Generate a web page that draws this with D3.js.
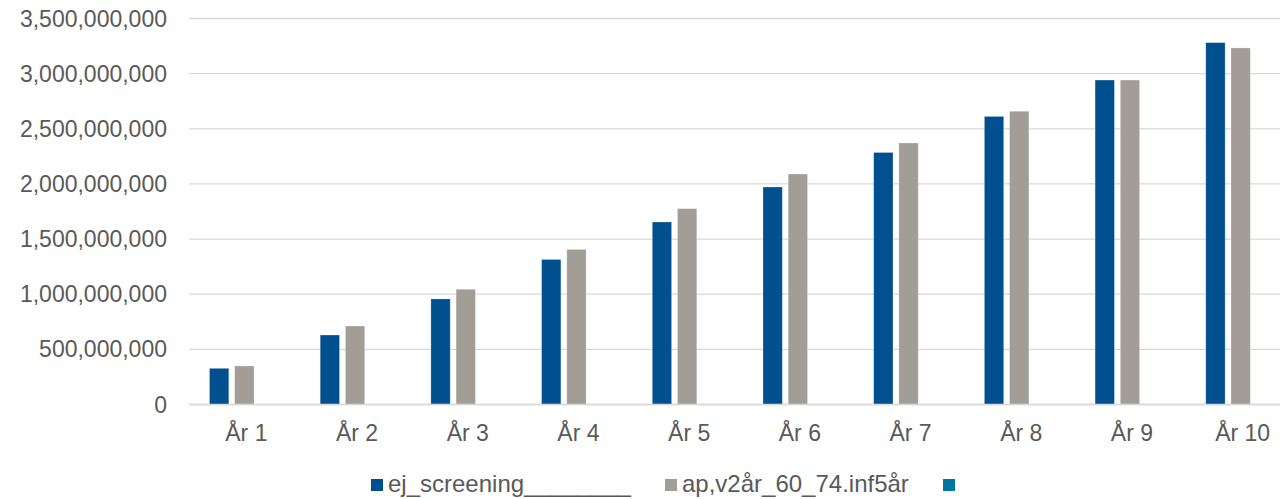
<!DOCTYPE html>
<html>
<head>
<meta charset="utf-8">
<script src="https://cdn.jsdelivr.net/npm/d3@7"></script>
<style>
  html, body { margin: 0; padding: 0; background: #fff; overflow: hidden; }
  svg { display: block; font-family: "Liberation Sans", Arial, sans-serif; }
</style>
</head>
<body>
<svg id="chart" width="1280" height="499"></svg>
<script>
const categories = ["År 1","År 2","År 3","År 4","År 5","År 6","År 7","År 8","År 9","År 10"];
const seriesNames = ["ej_screening________", "ap,v2år_60_74.inf5år", ""];
const ejScreening = [328e6, 630e6, 957e6, 1315e6, 1655e6, 1972e6, 2285e6, 2612e6, 2942e6, 3281e6];
const apV2ar = [349e6, 712e6, 1045e6, 1406e6, 1776e6, 2090e6, 2371e6, 2659e6, 2942e6, 3233e6];
const third = [0, 0, 0, 0, 0, 0, 0, 0, 0, 0];
const yTicks = [0, 500e6, 1000e6, 1500e6, 2000e6, 2500e6, 3000e6, 3500e6];
const colors = ["#00508F", "#A39D98", "#0075A2"];

const seriesValues = [ejScreening, apV2ar, third];
const svg = d3.select("#chart");

const plotLeft = 189, plotRight = 1296, plotTop = 18.5, plotBottom = 404.5;

const x0 = d3.scaleBand().domain(categories).range([plotLeft, plotRight]).paddingInner(0).paddingOuter(0);
const x1 = d3.scaleBand().domain(d3.range(seriesValues.length)).range([0, x0.bandwidth()])
  .paddingInner(0.234).paddingOuter(0.813);
const y = d3.scaleLinear().domain([0, 3500e6]).range([plotBottom, plotTop]);

// gridlines
svg.append("g").selectAll("line").data(yTicks).join("line")
  .attr("x1", plotLeft).attr("x2", 1280)
  .attr("y1", d => y(d)).attr("y2", d => y(d))
  .attr("stroke", "#D9D9D9").attr("stroke-width", 1.3);

// y axis labels
const fmt = d3.format(",");
svg.append("g").selectAll("text").data(yTicks).join("text")
  .attr("x", 167).attr("y", d => y(d)).attr("dy", "0.35em")
  .attr("text-anchor", "end")
  .attr("font-size", 23).attr("fill", "#595959")
  .text(d => fmt(d));

// bars
const groups = svg.append("g").selectAll("g").data(categories).join("g")
  .attr("transform", c => `translate(${x0(c)},0)`);
groups.selectAll("rect")
  .data((c, i) => seriesValues.map((s, k) => ({k, v: s[i]})))
  .join("rect")
  .attr("x", d => x1(d.k))
  .attr("width", x1.bandwidth())
  .attr("y", d => y(d.v))
  .attr("height", d => y(0) - y(d.v))
  .attr("fill", d => colors[d.k])
  .attr("stroke", "#ffffff").attr("stroke-opacity", 0.35).attr("stroke-width", 0.7);

// zero line redraw on top
svg.append("line").attr("x1", plotLeft).attr("x2", 1280)
  .attr("y1", y(0)).attr("y2", y(0)).attr("stroke", "#D9D9D9").attr("stroke-width", 1.5);

// x labels
svg.append("g").selectAll("text").data(categories).join("text")
  .attr("x", c => x0(c) + x0.bandwidth() / 2 + 2)
  .attr("y", 441)
  .attr("text-anchor", "middle")
  .attr("font-size", 23).attr("fill", "#595959")
  .text(c => c);

// legend
const legendX = [371, 665, 943];
const leg = svg.append("g").selectAll("g").data(seriesNames).join("g")
  .attr("transform", (d, i) => `translate(${legendX[i]},0)`);
leg.append("rect").attr("x", 0).attr("y", 479).attr("width", 12).attr("height", 12)
  .attr("fill", (d, i) => colors[i]);
leg.append("text").attr("x", 17).attr("y", 492)
  .attr("font-size", 24).attr("fill", "#595959")
  .text(d => d);
</script>
</body>
</html>
